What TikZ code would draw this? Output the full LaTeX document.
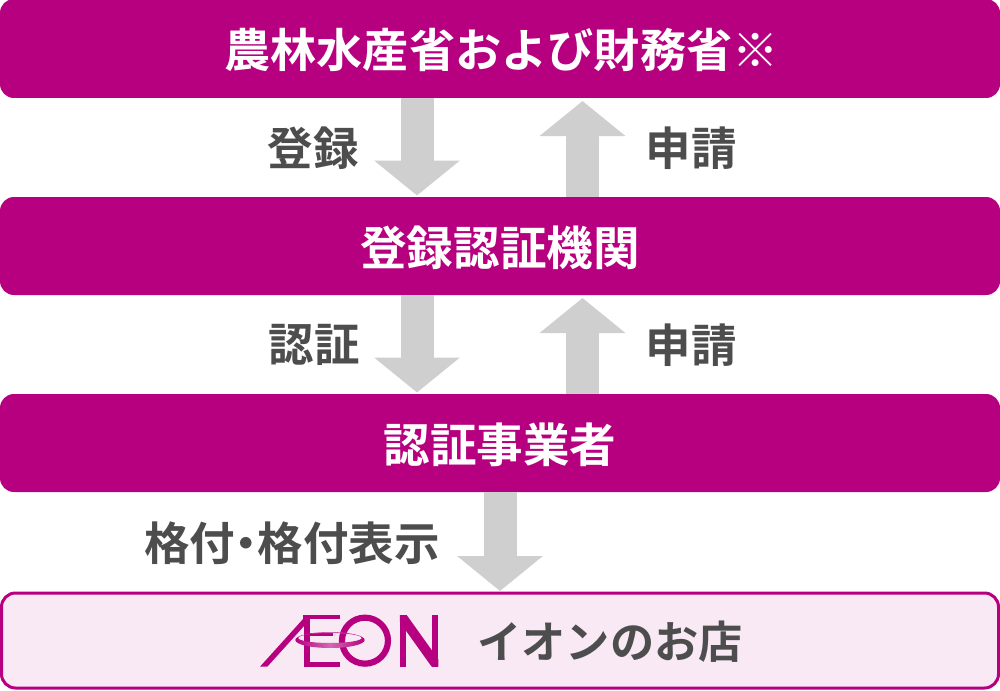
\documentclass[tikz,border=0pt]{standalone}
\usepackage{fontspec}
\newfontfamily\cjk{Noto Sans CJK JP}[BoldFont=* Bold]
\usetikzlibrary{arrows.meta,calc}
\definecolor{mag}{HTML}{B7007F}
\definecolor{pale}{HTML}{F8E9F5}
\definecolor{arr}{HTML}{CFCFCF}
\definecolor{txt}{HTML}{4D4D4D}
\definecolor{ringc}{HTML}{D468B4}
\tikzset{
  bar/.style={minimum width=1000pt,inner sep=0pt,outer sep=0pt,rounded corners=14pt,fill=mag,text=white,anchor=north west},
  flow/.style={line width=33pt,arr,-{Triangle[length=35pt,width=84pt,sep=0pt]}},
  lab/.style={text=txt,inner sep=0pt,font=\cjk\bfseries\fontsize{45.5}{45.5}\selectfont},
  ttl/.style={font=\cjk\bfseries\fontsize{46.6}{46.6}\selectfont,text height=40pt,text depth=2pt},
}
\begin{document}
\begin{tikzpicture}[x=1pt,y=-1pt]
\useasboundingbox (0,0) rectangle (1000,690);
\node[bar,ttl,minimum height=99pt] (a) at (0,-1) {\kern3pt\fontsize{46.2}{46.2}\selectfont 農林水産省および財務省※};
\node[bar,ttl,minimum height=98pt] (b) at (0,197) {登録認証機関};
\node[bar,ttl,minimum height=98pt] (c) at (0,394) {認証事業者};
\node[bar,draw=mag,line width=3pt,fill=pale,minimum width=997pt,minimum height=95pt] (d) at (1.5,593) {};
\draw[flow] ($(a.south)+(-83,0)$) -- ($(b.north)+(-83,-1.5)$);
\draw[flow] ($(b.north)+(82.5,0)$) -- ($(a.south)+(82.5,3)$);
\draw[flow] ($(b.south)+(-83,0)$) -- ($(c.north)+(-83,-1.5)$);
\draw[flow] ($(c.north)+(82.5,0)$) -- ($(b.south)+(82.5,3)$);
\draw[flow] ($(c.south)+(0,0)$) -- ($(d.north)+(0,-2)$);
\node[lab] (l1) at (313,148) {登録};
\node[lab] (l2) at (691,148) {申請};
\node[lab] (l3) at (314,345) {認証};
\node[lab] (l4) at (691,345) {申請};
\node[lab] (l5) at (292,543) {格付\kern-11.5pt・\kern-11.5pt格付表示};
\node[lab,font=\cjk\bfseries\fontsize{44.2}{44.2}\selectfont] (l6) at (610,642) {イオンのお店};
\begin{scope}[shift={(240,590)},x=0.3333pt,y=-0.3333pt]
  % slash
  \fill[mag] (60,230) -- (82,230) -- (222,75) -- (200,75) -- cycle;
  % E
  \fill[mag] (190,75) rectangle (300,88);
  \fill[mag] (192,128) rectangle (280,139);
  \fill[mag] (192,217) rectangle (300,230);
  \fill[mag] (192,75) rectangle (211,230);
  % O
  \draw[mag,line width=6.2pt] (375,152) circle (69 and 69);
  % N
  \fill[mag] (480,75) rectangle (499,230);
  \fill[mag] (576,75) rectangle (595,230);
  \fill[mag] (480,75) -- (500,75) -- (595,208) -- (595,230) -- (575,230) -- (480,97) -- cycle;
  % ring
  \path[even odd rule,left color=mag,right color=mag,middle color=ringc] (270,150) ellipse (104 and 24) (270,144) ellipse (95 and 15);
\end{scope}
\end{tikzpicture}
\end{document}
